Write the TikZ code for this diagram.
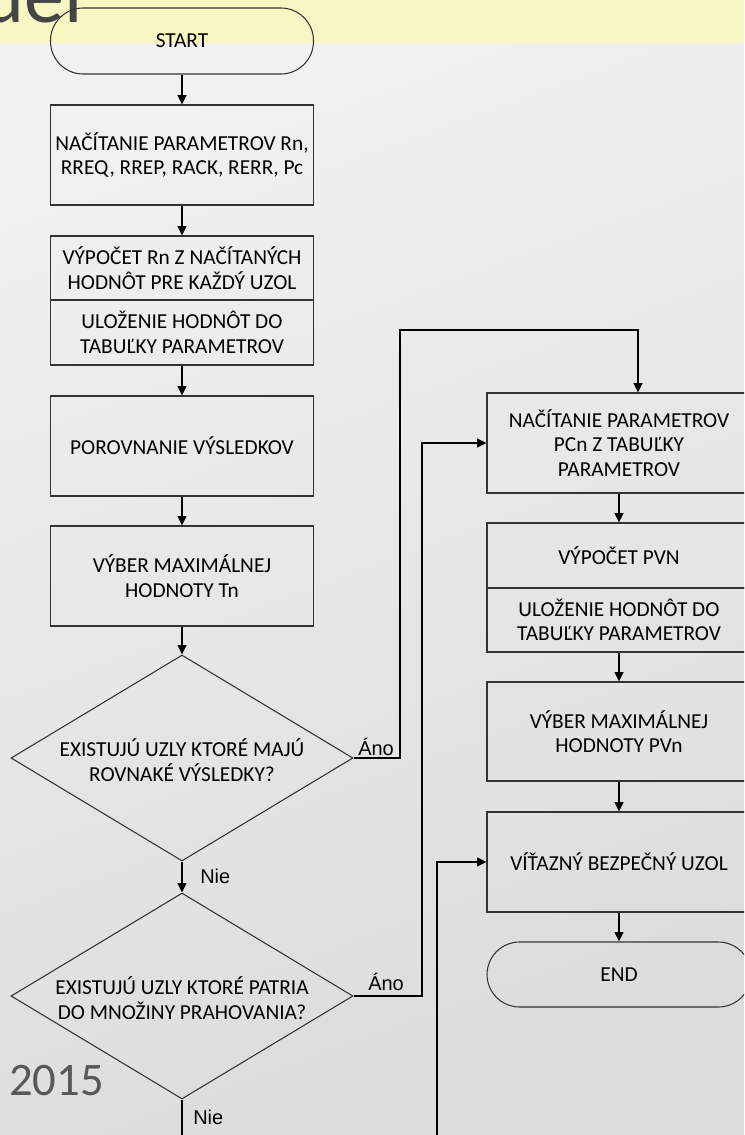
\documentclass[tikz,border=0pt]{standalone}
\usepackage{fontspec}
\setmainfont{Carlito}
\newfontfamily\arialf{Liberation Sans}
\usetikzlibrary{shapes.geometric,arrows.meta}
\definecolor{bandyellow}{HTML}{F8F6C3}
\definecolor{bgtop}{HTML}{F1F1F1}
\definecolor{bgbot}{HTML}{DCDCDC}
\definecolor{boxline}{HTML}{333333}
\definecolor{titlegray}{HTML}{454545}
\tikzset{
  boxl/.style={draw=boxline, line width=0.8pt, minimum width=263*0.75pt, inner sep=0pt, align=center, font=\fontsize{16}{18.5}\selectfont},
  boxr/.style={boxl, minimum width=264*0.75pt},
  term/.style={boxl, rounded corners=24.5pt},
  dia/.style={diamond, draw=boxline, line width=0.8pt, minimum width=342*0.75pt, minimum height=206*0.75pt, inner sep=0pt},
  dtext/.style={align=center, inner sep=0pt, font=\fontsize{16}{18.5}\selectfont},
  arr/.style={line width=1.3pt, -{Triangle[length=7pt,width=6.5pt]}},
  conn/.style={line width=1.3pt},
  lbl/.style={font=\arialf\fontsize{15}{18}\selectfont, inner sep=0pt}
}
\begin{document}
\begin{tikzpicture}[x=0.75pt,y=-0.75pt]
\useasboundingbox (0,0) rectangle (744,1135);
\clip (0,0) rectangle (744,1135);
% background
\shade[top color=bgtop, bottom color=bgbot, shading angle=20] (0,0) rectangle (744,1135);
\fill[bandyellow] (0,0) rectangle (744,43);
\node[anchor=base east, inner sep=0pt, text=titlegray, font=\fontsize{60}{60}\selectfont] (title) at (83,22) {Model};
\node[anchor=base west, inner sep=0pt, text=titlegray!90, font=\fontsize{35}{35}\selectfont] (year) at (9,1095) {2015};

% left column
\node[term, minimum height=66*0.75pt] (start) at (182,41) {START};
\node[boxl, minimum height=100*0.75pt] (b1) at (182,155) {NAČÍTANIE PARAMETROV Rn,\\RREQ, RREP, RACK, RERR, Pc};
\node[boxl, minimum height=64*0.75pt] (b2) at (182,268) {VÝPOČET Rn Z NAČÍTANÝCH\\HODNÔT PRE KAŽDÝ UZOL};
\node[boxl, minimum height=65*0.75pt] (b3) at (182,332.5) {ULOŽENIE HODNÔT DO\\TABUĽKY PARAMETROV};
\node[boxl, minimum height=100*0.75pt] (b4) at (182,446) {POROVNANIE VÝSLEDKOV};
\node[boxl, minimum height=100*0.75pt] (b5) at (182,576) {VÝBER MAXIMÁLNEJ\\HODNOTY Tn};
\node[dia] (d1) at (182,758) {};
\node[dtext] (t1) at (182,760) {EXISTUJÚ UZLY KTORÉ MAJÚ\\ROVNAKÉ VÝSLEDKY?};
\node[dia] (d2) at (182,996) {};
\node[dtext] (t2) at (182,998) {EXISTUJÚ UZLY KTORÉ PATRIA\\DO MNOŽINY PRAHOVANIA?};

% right column
\node[boxr, minimum height=100*0.75pt] (b6) at (619,443) {NAČÍTANIE PARAMETROV\\PCn Z TABUĽKY\\PARAMETROV};
\node[boxr, minimum height=65*0.75pt] (b7) at (619,555.5) {VÝPOČET PVN};
\node[boxr, minimum height=64*0.75pt] (b8) at (619,620) {ULOŽENIE HODNÔT DO\\TABUĽKY PARAMETROV};
\node[boxr, minimum height=99*0.75pt] (b9) at (619,731.5) {VÝBER MAXIMÁLNEJ\\HODNOTY PVn};
\node[boxr, minimum height=100*0.75pt] (b10) at (619,862) {VÍŤAZNÝ BEZPEČNÝ UZOL};
\node[term, minimum width=264*0.75pt, minimum height=65*0.75pt] (end) at (619,974.5) {END};

% connectors left
\draw[arr] (start) -- (b1);
\draw[arr] (b1) -- (b2);
\draw[arr] (b3) -- (b4);
\draw[arr] (b4) -- (b5);
\draw[arr] (b5) -- (d1);
\draw[arr] (d1.south) -- (d2.north);
\coordinate (bot1) at (182,1145);
\draw[conn] (d2.south) -- (bot1);

% connectors right
\draw[arr] (b6) -- (b7);
\draw[arr] (b8) -- (b9);
\draw[arr] (b9) -- (b10);
\draw[arr] (b10) -- (end);

% cross connectors
\coordinate (c1) at (400,330);
\draw[arr] (d1.east) -| (c1) -| ([xshift=14.25pt]b6.north);
\coordinate (c2) at (422,700);
\draw[arr] (d2.east) -| (c2) |- (b6.west);
\coordinate (c3) at (437,1145);
\draw[arr] (c3) |- (b10.west);

% labels
\node[lbl, anchor=base west] (ano1) at (358,755) {Áno};
\node[lbl, anchor=base west] (nie1) at (200,883) {Nie};
\node[lbl, anchor=base west] (ano2) at (368,990) {Áno};
\node[lbl, anchor=base west] (nie2) at (193,1124) {Nie};
\end{tikzpicture}
\end{document}
